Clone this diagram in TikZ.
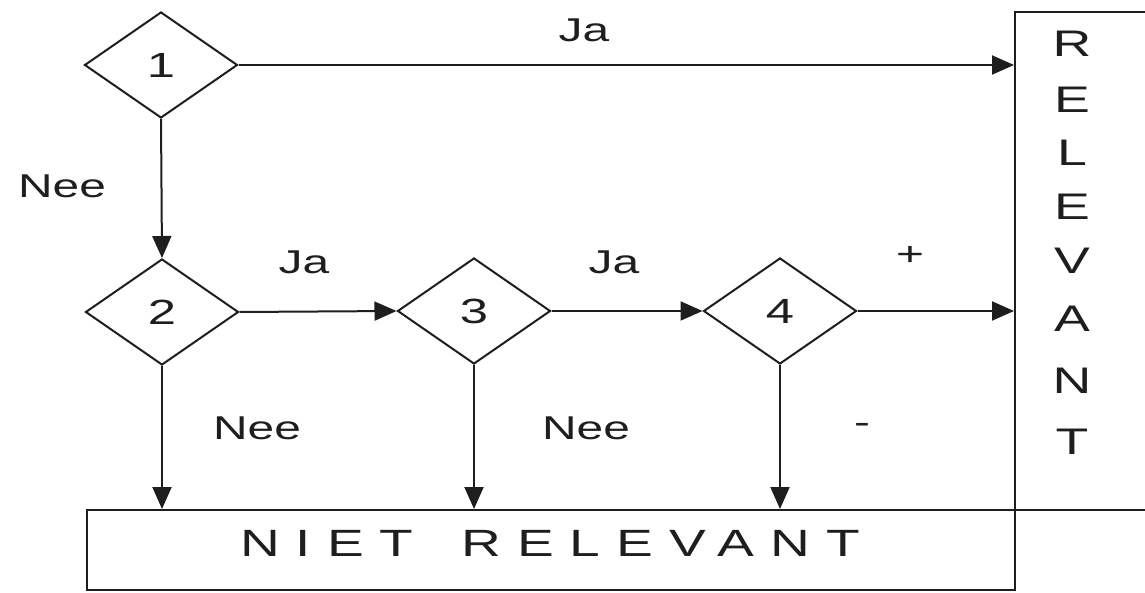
\documentclass[tikz,border=0pt]{standalone}
\usepackage{fontspec}
\setmainfont{Liberation Sans}
\newfontfamily\wide[FakeStretch=1.45]{Liberation Sans}
\usetikzlibrary{shapes.geometric,arrows.meta}
\definecolor{ink}{HTML}{1E1E1E}
\begin{document}
\begin{tikzpicture}[x=1pt,y=-1pt,
  dia/.style={diamond,draw=ink,line width=2pt,minimum width=153pt,minimum height=106pt,inner sep=0pt,font=\wide\fontsize{35}{40}\selectfont,text=ink},
  boxx/.style={draw=ink,line width=2.2pt,rectangle,inner sep=0pt},
  lab/.style={font=\wide\fontsize{33}{40}\selectfont,text=ink,inner sep=0pt},
  arr/.style={draw=ink,line width=2pt,-{Triangle[length=22pt,width=19pt]}},
  conn/.style={draw=ink,line width=2pt}]
\useasboundingbox (0,0) rectangle (1145,593);
% boxes
\node[boxx, minimum width=150pt, minimum height=498pt, anchor=north west] (rel) at (1014,11) {};
\node[boxx, minimum width=928pt, minimum height=80pt, anchor=north west] (niet) at (86,509) {};
\node[text=ink, inner sep=0pt, font=\wide\fontsize{38}{40}\selectfont\addfontfeature{LetterSpace=42}] (niettxt) at (550,543) {NIET\hspace*{48pt}RELEVANT};
\foreach \c/\yy [count=\i] in {R/44,E/100,L/153,E/207,V/261,A/319,N/381,T/442}
  \node[lab, font=\wide\fontsize{37}{40}\selectfont] (r\i) at (1072,\yy) {\c};
% diamonds
\node[dia] (d1) at (161,65) {1};
\node[dia] (d2) at (162,312) {2};
\node[dia] (d3) at (474,311) {3};
\node[dia] (d4) at (780,311) {4};
% connectors
\draw[arr] (d1.east) -- (d1.east -| rel.west);
\draw[arr] (d1.south) -- (d2.north);
\draw[arr] (d2.east) -- (d3.west);
\draw[arr] (d3.east) -- (d4.west);
\draw[arr] (d4.east) -- (d4.east -| rel.west);
\draw[arr] (d2.south) -- (d2.south |- niet.north);
\draw[arr] (d3.south) -- (d3.south |- niet.north);
\draw[arr] (d4.south) -- (d4.south |- niet.north);
% labels
\node[lab] (l1) at (584,30) {Ja};
\node[lab] (l2) at (62,186) {Nee};
\node[lab] (l3) at (304,262) {Ja};
\node[lab] (l4) at (614,262) {Ja};
\node[lab] (l5) at (910,256) {+};
\node[lab] (l6) at (257,428) {Nee};
\node[lab] (l7) at (586,428) {Nee};
\node[lab] (l8) at (862,428) {-};
\end{tikzpicture}
\end{document}
